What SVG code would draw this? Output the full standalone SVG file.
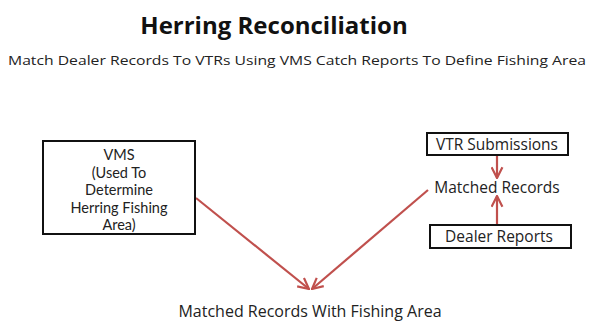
<svg xmlns="http://www.w3.org/2000/svg" width="592" height="321" viewBox="0 0 592 321">
<defs>
<style>
text{font-family:"Open Sans","Noto Sans","Liberation Sans",sans-serif;fill:#222;text-anchor:middle}
.title{font-size:24px;font-weight:bold;fill:#111}
.sub{font-size:13px}
.box{fill:#fff;stroke:#111;stroke-width:2}
.lbl{font-family:Lato,"Open Sans",sans-serif;font-size:14.5px}
.big{font-size:15.5px}
.res{font-size:16px}
.conn{stroke:#c0504d;stroke-width:2.2;fill:none}
</style>
<marker id="ah" viewBox="0 0 12 12" refX="11" refY="6" markerWidth="13" markerHeight="13" markerUnits="userSpaceOnUse" orient="auto">
<path d="M1,1 L11,6 L1,11" fill="none" stroke="#c0504d" stroke-width="2"/>
</marker>
</defs>
<rect width="592" height="321" fill="#fff"/>
<text class="title" x="274" y="34">Herring Reconciliation</text>
<text class="sub" x="297" y="65" textLength="578" lengthAdjust="spacingAndGlyphs">Match Dealer Records To VTRs Using VMS Catch Reports To Define Fishing Area</text>
<g id="connectors">
<line class="conn" x1="497" y1="156" x2="497" y2="178" marker-end="url(#ah)"/>
<line class="conn" x1="497" y1="225" x2="497" y2="196" marker-end="url(#ah)"/>
<line class="conn" x1="196" y1="198" x2="309" y2="289" marker-end="url(#ah)"/>
<line class="conn" x1="428" y1="190" x2="312" y2="289" marker-end="url(#ah)"/>
</g>
<g id="vms">
<rect class="box" x="43" y="141" width="152" height="93"/>
<text class="lbl" x="119" y="160">VMS</text>
<text class="lbl" x="119" y="177.5">(Used To</text>
<text class="lbl" x="119" y="195">Determine</text>
<text class="lbl" x="119" y="212.5">Herring Fishing</text>
<text class="lbl" x="119" y="230">Area)</text>
</g>
<g id="vtr">
<rect class="box" x="427" y="133" width="141" height="22"/>
<text class="big" x="497" y="149.5">VTR Submissions</text>
</g>
<g id="matched">
<text class="big" x="497" y="193">Matched Records</text>
</g>
<g id="dealer">
<rect class="box" x="430" y="225" width="141" height="23"/>
<text class="big" x="499" y="242">Dealer Reports</text>
</g>
<g id="result">
<text class="res" x="310" y="317">Matched Records With Fishing Area</text>
</g>
</svg>
